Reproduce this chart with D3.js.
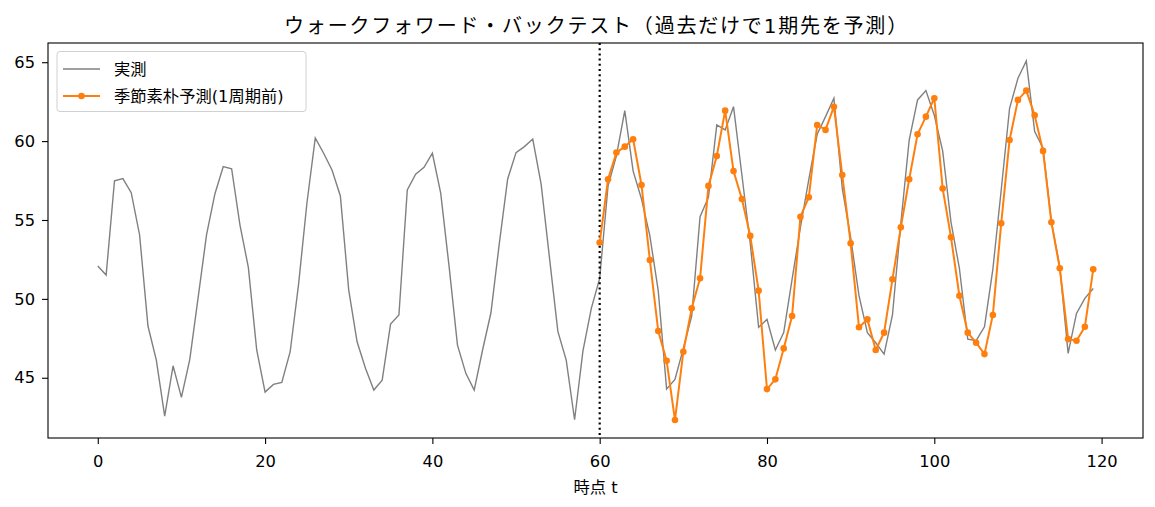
<!DOCTYPE html>
<html>
<head>
<meta charset="utf-8">
<script src="https://cdn.jsdelivr.net/npm/d3@7"></script>
<style>
  body { margin: 0; background: #fff; }
  svg { font-family: "DejaVu Sans", "Noto Sans CJK JP", sans-serif; }
</style>
</head>
<body>
<svg id="chart"></svg>
<script>
// actual series, t = 0..119
const actual = [
  52.08, 51.51, 57.49, 57.62, 56.73, 54.05, 48.28, 46.12, 42.57, 45.76, 43.76, 46.17,
  50.10, 54.05, 56.65, 58.38, 58.25, 54.68, 52.00, 46.76, 44.09, 44.58, 44.71, 46.65,
  50.90, 56.06, 60.20, 59.23, 58.17, 56.52, 50.56, 47.28, 45.60, 44.22, 44.85, 48.40,
  48.98, 56.90, 57.90, 58.34, 59.23, 56.69, 52.04, 47.07, 45.28, 44.22, 46.76, 49.12,
  53.50, 57.60, 59.27, 59.65, 60.13, 57.27, 52.60, 47.94, 46.12, 42.34, 46.70, 49.40,
  51.30, 57.16, 59.06, 61.93, 58.10, 56.33, 53.99, 50.52, 44.28, 44.90, 46.86, 48.91,
  55.21, 56.44, 61.02, 60.71, 62.18, 57.85, 53.52, 48.20, 48.70, 46.76, 47.86, 51.24,
  54.54, 57.58, 60.43, 61.55, 62.72, 57.00, 53.90, 50.20, 47.86, 47.22, 46.50, 48.98,
  54.79, 60.07, 62.61, 63.20, 61.64, 59.38, 54.85, 51.94, 47.45, 47.35, 48.23, 51.87,
  56.90, 62.08, 63.98, 65.08, 60.60, 59.55, 54.90, 52.04, 46.55, 49.08, 50.03, 50.66
];

// seasonal naive forecast, t = 60..119
const forecastStart = 60;
const forecast = [
  53.57, 57.58, 59.27, 59.65, 60.12, 57.22, 52.46, 47.96, 46.08, 42.32, 46.65, 49.40,
  51.30, 57.16, 59.06, 61.93, 58.10, 56.33, 53.99, 50.52, 44.28, 44.90, 46.86, 48.91,
  55.21, 56.44, 61.02, 60.71, 62.18, 57.85, 53.52, 48.20, 48.70, 46.76, 47.86, 51.24,
  54.54, 57.58, 60.43, 61.55, 62.72, 57.00, 53.90, 50.20, 47.86, 47.22, 46.50, 48.98,
  54.79, 60.07, 62.61, 63.20, 61.64, 59.38, 54.85, 51.94, 47.45, 47.35, 48.23, 51.87
];

const xTicks = [0, 20, 40, 60, 80, 100, 120];
const yTicks = [45, 50, 55, 60, 65];

const titleText = "ウォークフォワード・バックテスト（過去だけで1期先を予測）";
const xLabel = "時点 t";
const seriesNames = ["実測", "季節素朴予測(1周期前)"];

const W = 1155, H = 507;
const margin = { top: 43, right: 12, bottom: 69, left: 48 };
const width = W - margin.left - margin.right;
const height = H - margin.top - margin.bottom;
const fs = 16.3;

const svg = d3.select("#chart").attr("width", W).attr("height", H);
const g = svg.append("g").attr("transform", `translate(${margin.left},${margin.top})`);

const actualPts = actual.map((v, i) => [i, v]);
const forecastPts = forecast.map((v, i) => [forecastStart + i, v]);

// matplotlib-style 5% padding
const xExt = d3.extent(actualPts, d => d[0]);
const xPad = (xExt[1] - xExt[0]) * 0.05;
const yExt = d3.extent(actual.concat(forecast));
const yPad = (yExt[1] - yExt[0]) * 0.05;

const x = d3.scaleLinear().domain([xExt[0] - xPad, xExt[1] + xPad]).range([0, width]);
const y = d3.scaleLinear().domain([yExt[0] - yPad, yExt[1] + yPad]).range([height, 0]);

const line = d3.line().x(d => x(d[0])).y(d => y(d[1]));

g.append("path")
  .datum(actualPts)
  .attr("fill", "none")
  .attr("stroke", "#808080")
  .attr("stroke-width", 1.4)
  .attr("d", line);

g.append("line")
  .attr("x1", x(forecastStart)).attr("x2", x(forecastStart))
  .attr("y1", 0).attr("y2", height)
  .attr("stroke", "#000")
  .attr("stroke-width", 2.2)
  .attr("stroke-dasharray", "2,3.2");

g.append("path")
  .datum(forecastPts)
  .attr("fill", "none")
  .attr("stroke", "#ff7f0e")
  .attr("stroke-width", 2)
  .attr("d", line);

g.selectAll("circle.fc")
  .data(forecastPts)
  .join("circle")
  .attr("class", "fc")
  .attr("cx", d => x(d[0]))
  .attr("cy", d => y(d[1]))
  .attr("r", 3.3)
  .attr("fill", "#ff7f0e");

// axes
const xAxis = g.append("g")
  .attr("transform", `translate(0,${height})`)
  .call(d3.axisBottom(x).tickValues(xTicks).tickSize(6).tickPadding(11));
const yAxis = g.append("g")
  .call(d3.axisLeft(y).tickValues(yTicks).tickSize(6).tickPadding(7));

[xAxis, yAxis].forEach(a => {
  a.select(".domain").remove();
  a.selectAll("text").attr("font-size", fs).attr("fill", "#000")
    .style("font-family", '"DejaVu Sans", "Noto Sans CJK JP", sans-serif');
  a.selectAll("line").attr("stroke", "#000").attr("stroke-width", 1.1);
});

g.append("rect")
  .attr("width", width).attr("height", height)
  .attr("fill", "none").attr("stroke", "#000").attr("stroke-width", 1.1);

// title and label
svg.append("text")
  .attr("x", margin.left + width / 2 + 1).attr("y", 32.5)
  .attr("text-anchor", "middle")
  .attr("font-size", 20)
  .attr("letter-spacing", 1.8)
  .text(titleText);

svg.append("text")
  .attr("x", margin.left + width / 2).attr("y", 493)
  .attr("text-anchor", "middle")
  .attr("font-size", fs)
  .text(xLabel);

// legend
const legend = g.append("g").attr("transform", "translate(9,8.5)");
legend.append("rect")
  .attr("width", 249).attr("height", 60)
  .attr("rx", 3)
  .attr("fill", "#fff").attr("fill-opacity", 0.8)
  .attr("stroke", "#d0d0d0");

const items = [
  { name: seriesNames[0], color: "#808080", w: 1.4, dot: false },
  { name: seriesNames[1], color: "#ff7f0e", w: 2, dot: true }
];
items.forEach((it, i) => {
  const yy = 17.5 + i * 27;
  legend.append("line")
    .attr("x1", 6).attr("x2", 43).attr("y1", yy).attr("y2", yy)
    .attr("stroke", it.color).attr("stroke-width", it.w);
  if (it.dot) {
    legend.append("circle").attr("cx", 24.5).attr("cy", yy).attr("r", 3.3).attr("fill", it.color);
  }
  legend.append("text")
    .attr("x", 57).attr("y", yy + 6)
    .attr("font-size", fs)
    .text(it.name);
});
</script>
</body>
</html>
